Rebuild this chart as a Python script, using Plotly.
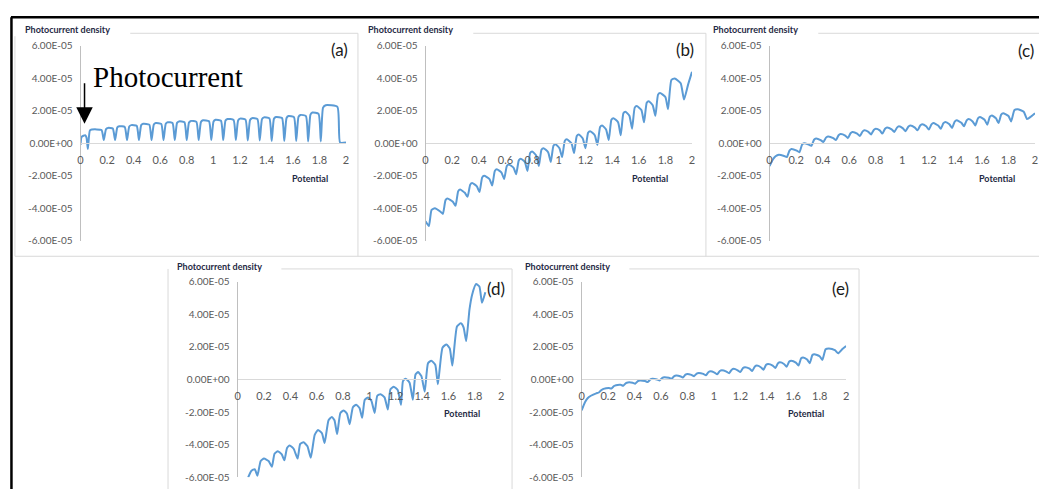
import plotly.graph_objects as go

W, H = 1042, 495

# ---------------- data (current in units of 1e-5) ----------------
A_X = [0.0, 0.008, 0.035, 0.045, 0.055,
       0.07, 0.085, 0.158,
       0.175, 0.192, 0.207, 0.243,
       0.26, 0.277, 0.292, 0.333,
       0.35, 0.367, 0.382, 0.423,
       0.44, 0.457, 0.472, 0.518,
       0.535, 0.552, 0.567, 0.608,
       0.625, 0.642, 0.657, 0.693,
       0.71, 0.727, 0.742, 0.783,
       0.80, 0.817, 0.832, 0.873,
       0.89, 0.907, 0.922, 0.968,
       0.985, 1.002, 1.017, 1.058,
       1.075, 1.092, 1.107, 1.153,
       1.17, 1.187, 1.202, 1.243,
       1.26, 1.277, 1.292, 1.333,
       1.35, 1.367, 1.382, 1.423,
       1.44, 1.457, 1.472, 1.518,
       1.535, 1.552, 1.567, 1.608,
       1.625, 1.642, 1.657, 1.698,
       1.715, 1.732, 1.747, 1.793,
       1.81, 1.827, 1.847, 1.935,
       1.955, 2.0]
A_Y = [-0.1, 0.4, 0.5, 0.35, -0.35,
       0.79, 0.85, 0.82,
       0.2, 0.88, 0.95, 0.91,
       0.2, 0.98, 1.05, 1.01,
       0.2, 1.04, 1.12, 1.08,
       0.2, 1.12, 1.2, 1.15,
       0.2, 1.16, 1.25, 1.2,
       0.2, 1.21, 1.3, 1.25,
       0.2, 1.26, 1.35, 1.3,
       0.2, 1.28, 1.38, 1.32,
       0.2, 1.32, 1.42, 1.36,
       0.2, 1.35, 1.45, 1.39,
       0.2, 1.4, 1.5, 1.44,
       0.2, 1.41, 1.52, 1.46,
       0.18, 1.44, 1.55, 1.49,
       0.18, 1.49, 1.6, 1.54,
       0.15, 1.51, 1.62, 1.56,
       0.15, 1.56, 1.68, 1.61,
       0.15, 1.63, 1.75, 1.68,
       0.12, 1.77, 1.9, 1.82,
       0.12, 2.2, 2.35, 2.25,
       0.05, 0.05]

BCE_X = [0.0, 0.025,
         0.045, 0.07, 0.11, 0.13,
         0.15, 0.165, 0.205, 0.225,
         0.245, 0.26, 0.295, 0.315,
         0.335, 0.35, 0.385, 0.405,
         0.425, 0.44, 0.48, 0.5,
         0.52, 0.535, 0.57, 0.59,
         0.61, 0.625, 0.66, 0.68,
         0.70, 0.715, 0.745, 0.765,
         0.785, 0.80, 0.83, 0.85,
         0.87, 0.885, 0.92, 0.94,
         0.96, 0.975, 1.005, 1.025,
         1.045, 1.06, 1.095, 1.115,
         1.135, 1.15, 1.18, 1.2,
         1.22, 1.235, 1.27, 1.29,
         1.31, 1.325, 1.355, 1.375,
         1.395, 1.41, 1.445, 1.465,
         1.485, 1.5, 1.53, 1.55,
         1.57, 1.585, 1.62, 1.64,
         1.66, 1.675, 1.705, 1.725,
         1.745, 1.76, 1.80, 1.82,
         1.845, 1.87, 1.915, 1.94,
         1.97, 2.0]
B_Y = [-4.8, -5.1,
       -4.1, -4.0, -4.2, -4.35,
       -3.5, -3.4, -3.6, -3.85,
       -2.95, -2.85, -3.05, -3.3,
       -2.55, -2.45, -2.65, -3.0,
       -2.1, -2.0, -2.2, -2.6,
       -1.7, -1.6, -1.8, -2.2,
       -1.4, -1.3, -1.5, -1.9,
       -1.05, -0.95, -1.15, -1.7,
       -0.6, -0.5, -0.75, -1.4,
       -0.4, -0.3, -0.55, -1.15,
       -0.15, -0.05, -0.3, -0.85,
       0.15, 0.25, 0.0, -0.6,
       0.45, 0.55, 0.3, -0.3,
       0.65, 0.75, 0.5, -0.1,
       1.0, 1.1, 0.85, 0.2,
       1.45, 1.55, 1.3, 0.5,
       1.85, 1.95, 1.7, 0.9,
       2.2, 2.3, 2.05, 1.3,
       2.5, 2.6, 2.35, 1.7,
       3.0, 3.1, 2.85, 2.1,
       3.9, 4.0, 3.7, 2.7,
       3.6, 4.4]
C_Y = [-1.4, -1.0,
       -0.8, -0.7, -0.78, -0.85,
       -0.45, -0.35, -0.45, -0.55,
       -0.08, 0.0, -0.08, -0.15,
       0.22, 0.3, 0.2, 0.08,
       0.35, 0.42, 0.32, 0.2,
       0.5, 0.58, 0.48, 0.32,
       0.62, 0.7, 0.6, 0.45,
       0.72, 0.8, 0.7, 0.55,
       0.82, 0.9, 0.8, 0.6,
       0.9, 0.98, 0.86, 0.7,
       0.97, 1.05, 0.92, 0.75,
       1.02, 1.1, 0.97, 0.8,
       1.1, 1.18, 1.05, 0.85,
       1.17, 1.25, 1.1, 0.9,
       1.24, 1.32, 1.17, 0.95,
       1.34, 1.42, 1.27, 1.05,
       1.42, 1.5, 1.35, 1.1,
       1.54, 1.62, 1.45, 1.15,
       1.64, 1.72, 1.55, 1.25,
       1.77, 1.85, 1.68, 1.35,
       2.05, 2.1, 1.95, 1.5,
       1.65, 1.85]
E_Y = [-1.9, -1.4,
       -1.15, -1.0, -0.85, -0.8,
       -0.65, -0.58, -0.52, -0.55,
       -0.4, -0.35, -0.33, -0.38,
       -0.22, -0.18, -0.2, -0.26,
       -0.1, -0.06, -0.1, -0.16,
       0.0, 0.04, 0.0, -0.06,
       0.1, 0.14, 0.1, 0.04,
       0.2, 0.24, 0.2, 0.12,
       0.3, 0.34, 0.28, 0.2,
       0.36, 0.4, 0.34, 0.25,
       0.46, 0.5, 0.42, 0.32,
       0.52, 0.56, 0.48, 0.38,
       0.6, 0.65, 0.56, 0.45,
       0.7, 0.75, 0.66, 0.52,
       0.8, 0.85, 0.75, 0.6,
       0.9, 0.95, 0.85, 0.7,
       1.0, 1.05, 0.95, 0.78,
       1.1, 1.15, 1.03, 0.85,
       1.3, 1.35, 1.22, 1.0,
       1.5, 1.55, 1.42, 1.2,
       1.85, 1.9, 1.8, 1.6,
       1.85, 2.05]

D_X = [0.08, 0.105, 0.13, 0.15,
       0.175, 0.2, 0.235, 0.26,
       0.28, 0.305, 0.335, 0.355,
       0.375, 0.395, 0.425, 0.455,
       0.475, 0.5, 0.53, 0.555,
       0.585, 0.61, 0.64, 0.66,
       0.69, 0.715, 0.735, 0.755,
       0.78, 0.805, 0.83, 0.85,
       0.875, 0.9, 0.925, 0.945,
       0.965, 0.99, 1.015, 1.04,
       1.06, 1.085, 1.115, 1.14,
       1.16, 1.185, 1.215, 1.24,
       1.255, 1.275, 1.305, 1.33,
       1.35, 1.37, 1.395, 1.42,
       1.445, 1.47, 1.5, 1.52,
       1.555, 1.585, 1.61, 1.63,
       1.665, 1.695, 1.715, 1.735,
       1.76, 1.78, 1.81, 1.835, 1.855,
       1.88]
D_Y = [-6.0, -5.6, -5.5, -5.9,
       -5.0, -4.85, -5.0, -5.35,
       -4.55, -4.4, -4.6, -4.95,
       -4.2, -4.05, -4.25, -4.85,
       -3.95, -3.85, -4.1, -4.8,
       -3.4, -3.1, -3.3, -3.9,
       -2.5, -2.3, -2.5, -3.35,
       -2.05, -1.9, -2.1, -2.75,
       -1.7, -1.55, -1.75, -2.35,
       -1.25, -1.1, -1.3, -2.05,
       -1.0, -0.9, -1.1, -1.85,
       -0.6, -0.45, -0.65, -1.55,
       -0.1, 0.05, -0.2, -1.25,
       0.3, 0.45, 0.2, -0.75,
       1.0, 1.15, 0.9, -0.3,
       1.95, 2.15, 1.9, 0.85,
       3.25, 3.45, 3.2, 2.35,
       4.3, 5.2, 5.85, 5.7, 4.7,
       5.35]

UNIT = 1e-5
SERIES = [("a", A_X, A_Y), ("b", BCE_X, B_Y), ("c", BCE_X, C_Y),
          ("d", D_X, D_Y), ("e", BCE_X, E_Y)]

X_TICKS = [0, 0.2, 0.4, 0.6, 0.8, 1.0, 1.2, 1.4, 1.6, 1.8, 2.0]
X_TICKTEXT = ["0", "0.2", "0.4", "0.6", "0.8", "1", "1.2", "1.4", "1.6", "1.8", "2"]
Y_TICKS = [-6e-5, -4e-5, -2e-5, 0, 2e-5, 4e-5, 6e-5]
Y_TICKTEXT = ["-6.00E-05", "-4.00E-05", "-2.00E-05", "0.00E+00",
              "2.00E-05", "4.00E-05", "6.00E-05"]

Y_TITLE = "Photocurrent density"
X_TITLE = "Potential"

# ---------------- layout helpers (page pixel -> paper) ----------------
def px(x):
    return x / W


def py(y):
    return 1 - y / H


# panel plot areas in page pixels: left, right, top(6E-05), bottom(-6E-05)
PANELS = {
    "a": (78, 345, 40, 240),
    "b": (425, 693, 40, 240),
    "c": (771, 1038, 40, 240),
    "d": (236, 501, 282, 483),
    "e": (582, 848, 282, 483),
}
LABEL_POS = {"a": (338, 44), "b": (686, 44), "c": (1029, 45),
             "d": (496, 289), "e": (842, 289)}
TITLE_POS = {"a": (20, 23), "b": (365, 23), "c": (712, 23),
             "d": (173, 266), "e": (523, 266)}
POT_POS = {"a": (309, 176), "b": (651, 176), "c": (1000, 176),
           "d": (462, 417), "e": (808, 417)}

BLUE = "#5b9bd5"
TICKCOL = "#595959"
FONT = "Lato"

fig = go.Figure()
annotations = []
layout_axes = {}

for i, (key, xs, ys) in enumerate(SERIES, start=1):
    l, r, t, b = PANELS[key]
    xa = "x" if i == 1 else f"x{i}"
    ya = "y" if i == 1 else f"y{i}"
    fig.add_trace(go.Scatter(
        x=xs, y=[v * UNIT for v in ys], mode="lines",
        line=dict(color=BLUE, width=2, shape="spline", smoothing=0.5),
        xaxis=xa, yaxis=ya, showlegend=False, hoverinfo="skip"))
    xname = "xaxis" if i == 1 else f"xaxis{i}"
    yname = "yaxis" if i == 1 else f"yaxis{i}"
    layout_axes[xname] = dict(
        domain=[px(l), px(r)], range=[0, 2], anchor="free",
        position=py((t + b) / 2), showline=True, linecolor="#d9d9d9",
        linewidth=1, showgrid=False, zeroline=False, ticks="",
        tickvals=X_TICKS, ticktext=X_TICKTEXT, ticklabelstandoff=6,
        tickfont=dict(family=FONT, size=11, color=TICKCOL))
    layout_axes[yname] = dict(
        domain=[py(b), py(t)], range=[-6e-5, 6e-5], anchor=xa,
        showline=True, linecolor="#bfbfbf", linewidth=1, showgrid=False,
        zeroline=False, ticks="", tickvals=Y_TICKS, ticktext=Y_TICKTEXT,
        ticklabelstandoff=5,
        tickfont=dict(family=FONT, size=10, color=TICKCOL))
    lx, lyp = LABEL_POS[key]
    annotations.append(dict(x=px(lx), y=py(lyp), xref="paper", yref="paper",
                            text=f"({key})", showarrow=False,
                            xanchor="center", yanchor="middle",
                            font=dict(family=FONT, size=17, color="#1a1a1a")))
    tx, ty = TITLE_POS[key]
    annotations.append(dict(x=px(tx), y=py(ty), xref="paper", yref="paper",
                            text=f"<b>{Y_TITLE}</b>", showarrow=False,
                            xanchor="left", yanchor="middle",
                            font=dict(family=FONT, size=9, color="#1f2a44")))
    ptx, pty = POT_POS[key]
    annotations.append(dict(x=px(ptx), y=py(pty), xref="paper", yref="paper",
                            text=f"<b>{X_TITLE}</b>", showarrow=False,
                            xanchor="center", yanchor="middle",
                            font=dict(family=FONT, size=9, color="#1f2a44")))

# "Photocurrent" arrow annotation on panel (a)
annotations.append(dict(x=0.03, y=1.2e-5, xref="x", yref="y", ax=0, ay=-42,
                        showarrow=True, arrowhead=2, arrowsize=2.2,
                        arrowwidth=1.5, arrowcolor="black", text=""))
annotations.append(dict(x=px(166), y=py(72), xref="paper", yref="paper",
                        text="Photocurrent", showarrow=False,
                        xanchor="center", yanchor="middle",
                        font=dict(family="Liberation Serif", size=29,
                                  color="black")))

# frames
GRAY = "#d9d9d9"
shapes = []


def seg(x0, y0, x1, y1, color=GRAY, width=1):
    shapes.append(dict(type="line", xref="paper", yref="paper",
                       x0=px(x0), y0=py(y0), x1=px(x1), y1=py(y1),
                       line=dict(color=color, width=width)))


# top row frames
seg(128, 27, 357, 27)
seg(473, 27, 707, 27)
seg(820, 27, 1042, 27)
seg(12, 256, 1042, 256)
seg(12, 30, 12, 256)
seg(357, 27, 357, 256)
seg(707, 27, 707, 256)
# bottom row frames
seg(280, 269, 512, 269)
seg(630, 269, 861, 269)
seg(166, 269, 166, 495)
seg(512, 269, 512, 495)
seg(861, 269, 861, 495)
# outer black border
seg(8, 10.5, 1042, 10.5, color="black", width=2.5)
seg(8.5, 10.5, 8.5, 495, color="black", width=2.5)

fig.update_layout(
    width=W, height=H, margin=dict(l=0, r=0, t=0, b=0),
    paper_bgcolor="white", plot_bgcolor="white",
    annotations=annotations, shapes=shapes, showlegend=False,
    **layout_axes)

PAGE_FIX = (
    "var s=document.createElement('style');"
    "s.innerHTML='html,body{margin:0;padding:0;overflow:hidden;"
    "width:1042px;height:495px;} body>div{height:495px;overflow:hidden;}';"
    "document.head.appendChild(s);"
)

fig.write_html("out.html", config={"displayModeBar": False},
               post_script=PAGE_FIX)
